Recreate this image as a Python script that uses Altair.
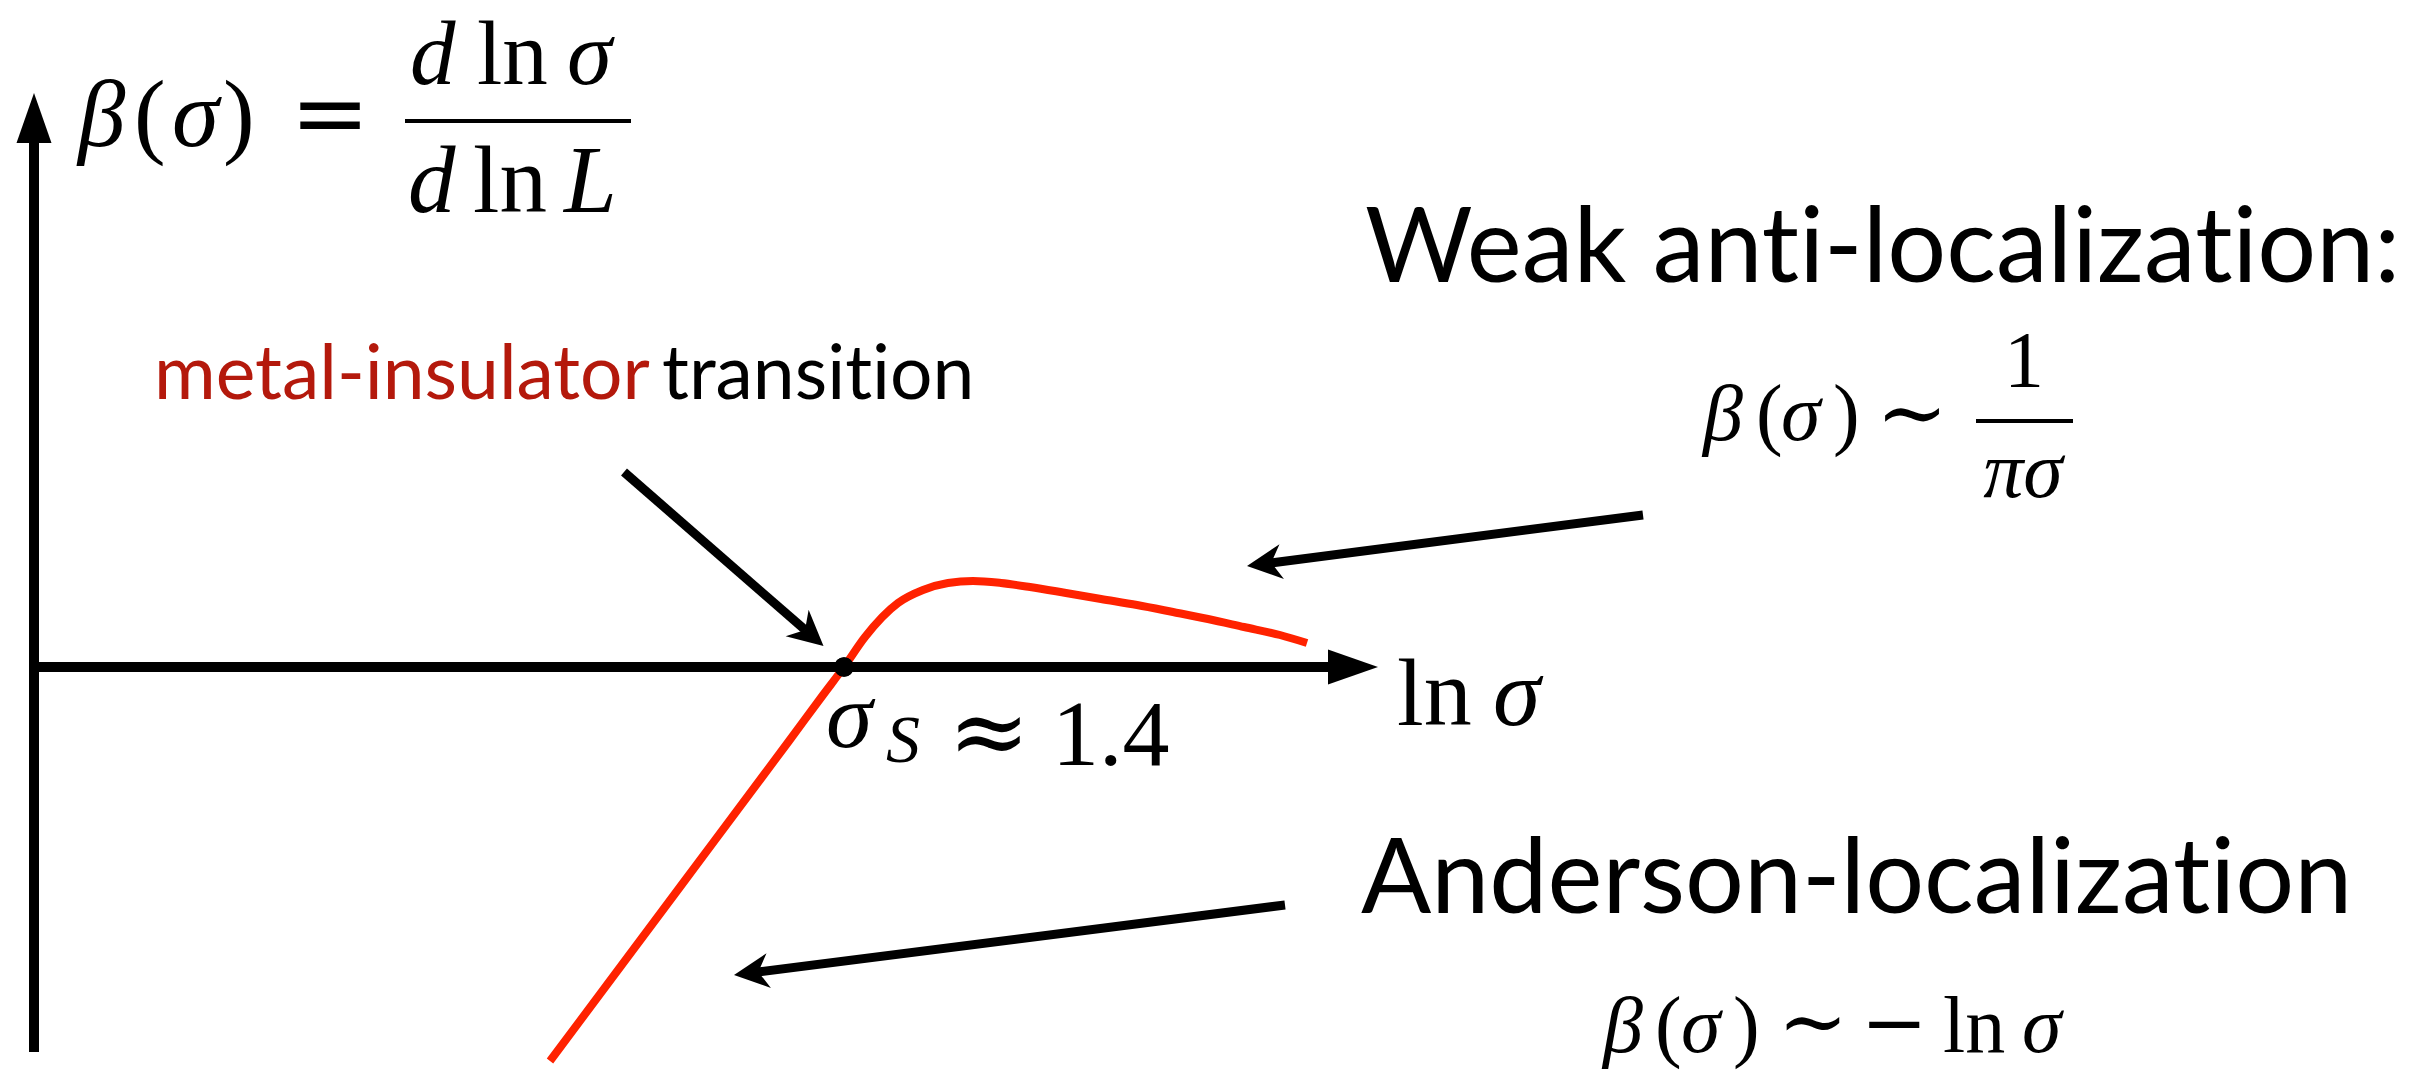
import math
import altair as alt
import pandas as pd

# Drawing frame in schematic units: 1 unit = 100 px on both axes,
# the ln(sigma) axis and the beta axis cross at (0, 0).
X_DOMAIN = [-0.34, 23.98]
Y_DOMAIN = [-4.03, 6.67]
W, H = 2432, 1070

# beta(sigma) against ln(sigma)
curve_lnsigma = [5.16, 6.46, 7.55, 7.89, 8.10, 8.31, 8.64, 8.89, 9.14, 9.39,
                 9.67, 9.96, 10.32, 10.67, 11.03, 11.39, 11.74, 12.10, 12.46, 12.73]
curve_beta = [-3.94, -2.20, -0.74, -0.28, 0.00, 0.30, 0.64, 0.77, 0.84, 0.86,
              0.84, 0.80, 0.74, 0.68, 0.62, 0.55, 0.48, 0.40, 0.32, 0.24]

# fixed point sigma_S (zero of beta)
fixed_x = [8.10]
fixed_y = [0.0]

# coordinate axes (start -> arrow tip)
axis_x0 = [0.0, -0.04]
axis_y0 = [-3.85, 0.0]
axis_x1 = [0.0, 13.44]
axis_y1 = [5.74, 0.0]

# pointer arrows: transition, weak anti-localization, Anderson localization
ptr_x0 = [5.90, 16.09, 12.51]
ptr_y0 = [1.95, 1.52, -2.38]
ptr_x1 = [7.895, 12.13, 7.00]
ptr_y1 = [0.21, 1.01, -3.08]

# fraction bars: x from, x to, y
frac_x0 = [3.71, 19.42]
frac_x1 = [5.97, 20.39]
frac_y = [5.46, 2.46]

BLACK = "#000000"
DARK_RED = "#B4190C"
CURVE_RED = "#FF2200"


def no_ti_ligature(s):
    # a zero-width non-joiner keeps "t" and "i" as separate glyphs
    return s.replace("ti", "t\u200ci")


# annotation texts: (text, x, y, font size, colour)
serif_italic = [
    ("β", 0.44, 5.21, 95, BLACK), ("σ", 1.38, 5.21, 95, BLACK),
    ("d", 3.76, 5.83, 91, BLACK), ("σ", 5.33, 5.83, 91, BLACK),
    ("d", 3.74, 4.55, 95, BLACK), ("L", 5.30, 4.55, 95, BLACK),
    ("β", 16.69, 2.27, 80, BLACK), ("σ", 17.47, 2.27, 80, BLACK),
    ("β", 15.69, -3.85, 80, BLACK), ("σ", 16.47, -3.85, 80, BLACK),
    ("σ", 19.88, -3.85, 80, BLACK),
    ("σ", 14.59, -0.58, 96, BLACK),
    ("σ", 7.92, -0.80, 94, BLACK), ("S", 8.52, -0.95, 68, BLACK),
]
serif_upright = [
    ("(", 1.00, 5.21, 95, BLACK), (")", 1.89, 5.21, 95, BLACK),
    ("ln", 4.43, 5.83, 91, BLACK), ("ln", 4.39, 4.55, 95, BLACK),
    ("(", 17.22, 2.27, 80, BLACK), (")", 17.99, 2.27, 80, BLACK),
    ("(", 16.21, -3.85, 80, BLACK), (")", 16.99, -3.85, 80, BLACK),
    ("ln", 19.09, -3.85, 80, BLACK),
    ("ln", 13.63, -0.58, 96, BLACK),
    ("1.4", 10.18, -0.98, 94, BLACK),
]
serif_upright_centred = [("1", 19.90, 2.80, 80, BLACK)]
serif_italic_centred = [("πσ", 19.89, 1.70, 80, BLACK)]
operators = [
    ("=", 2.96, 5.21, 95, BLACK),
    ("∼", 18.78, 2.25, 86, BLACK),
    ("∼", 17.79, -3.83, 84, BLACK),
    ("−", 18.60, -3.83, 80, BLACK),
    ("≈", 9.55, -0.98, 98, BLACK),
]
sans = [
    ("metal-insulator", 1.20, 2.68, 75, DARK_RED),
    (no_ti_ligature("transition"), 6.28, 2.68, 75, BLACK),
    (no_ti_ligature("Weak anti-localization:"), 13.31, 3.85, 104, BLACK),
    (no_ti_ligature("Anderson-localization"), 13.27, -2.46, 104, BLACK),
]

xs = alt.Scale(domain=X_DOMAIN, nice=False, zero=False)
ys = alt.Scale(domain=Y_DOMAIN, nice=False, zero=False)


def ex(field="x"):
    return alt.X(f"{field}:Q", scale=xs, axis=None)


def ey(field="y"):
    return alt.Y(f"{field}:Q", scale=ys, axis=None)


def arrow_frame(x0, y0, x1, y1, back):
    """Shaft ends slightly behind the tip; head angle measured clockwise from up."""
    rows = []
    for a, b, c, d in zip(x0, y0, x1, y1):
        dx, dy = c - a, d - b
        n = math.hypot(dx, dy)
        rows.append(dict(x=a, y=b, x2=c - dx / n * back, y2=d - dy / n * back,
                         tx=c, ty=d,
                         ang=(math.degrees(math.atan2(dx, dy)) + 360) % 360))
    return pd.DataFrame(rows)


def shafts(df, width):
    return alt.Chart(df).mark_rule(color=BLACK, strokeWidth=width, strokeCap="butt").encode(
        x=ex("x"), y=ey("y"), x2=alt.X2("x2:Q"), y2=alt.Y2("y2:Q"))


def heads(df, path, size):
    return alt.Chart(df).mark_point(shape=path, filled=True, color=BLACK, size=size,
                                    opacity=1, strokeWidth=0).encode(
        x=ex("tx"), y=ey("ty"), angle=alt.Angle("ang:Q", scale=None))


def text_layer(rows, font, style="normal", align="left"):
    df = pd.DataFrame(rows, columns=["t", "x", "y", "fs", "c"])
    return alt.Chart(df).mark_text(font=font, fontStyle=style, align=align,
                                   baseline="alphabetic").encode(
        x=ex(), y=ey(), text="t:N",
        size=alt.Size("fs:Q", scale=None), color=alt.Color("c:N", scale=None))


axes_df = arrow_frame(axis_x0, axis_y0, axis_x1, axis_y1, back=0.30)
ptr_df = arrow_frame(ptr_x0, ptr_y0, ptr_x1, ptr_y1, back=0.24)

TRIANGLE = "M0,0L0.35,1L-0.35,1Z"
STEALTH = "M0,0L0.5,1L0,0.7L-0.5,1Z"

curve = alt.Chart(pd.DataFrame({"x": curve_lnsigma, "y": curve_beta})).mark_line(
    color=CURVE_RED, strokeWidth=8, interpolate="monotone", strokeCap="butt").encode(
    x=ex(), y=ey(), order="x:Q")

fixed_df = pd.DataFrame({"x": fixed_x, "y": fixed_y})
ring = alt.Chart(fixed_df).mark_point(shape="circle", filled=False, fill="white",
                                      stroke=BLACK, strokeWidth=1.3, size=330, opacity=1,
                                      dx=1, dy=3).encode(x=ex(), y=ey())
dot = alt.Chart(fixed_df).mark_point(shape="circle", filled=True, color=BLACK,
                                     size=380, opacity=1, strokeWidth=0).encode(x=ex(), y=ey())

bars = alt.Chart(pd.DataFrame({"x": frac_x0, "x2": frac_x1, "y": frac_y})).mark_rule(
    color=BLACK, strokeWidth=4, strokeCap="butt").encode(
    x=ex("x"), x2=alt.X2("x2:Q"), y=ey("y"))

SERIF = "Liberation Serif"
chart = alt.layer(
    shafts(axes_df, 10),
    heads(axes_df, TRIANGLE, 10000),
    curve,
    shafts(ptr_df, 9),
    heads(ptr_df, STEALTH, 4900),
    ring,
    dot,
    bars,
    text_layer(serif_italic, SERIF, "italic"),
    text_layer(serif_upright, SERIF),
    text_layer(serif_upright_centred, SERIF, align="center"),
    text_layer(serif_italic_centred, SERIF, "italic", align="center"),
    text_layer(operators, "DejaVu Serif", align="center"),
    text_layer(sans, "Lato"),
).properties(
    width=W, height=H, padding=0, autosize="none", background="white"
).configure_view(strokeWidth=0)

chart.save("out.html", embed_options={"renderer": "svg", "actions": False})
